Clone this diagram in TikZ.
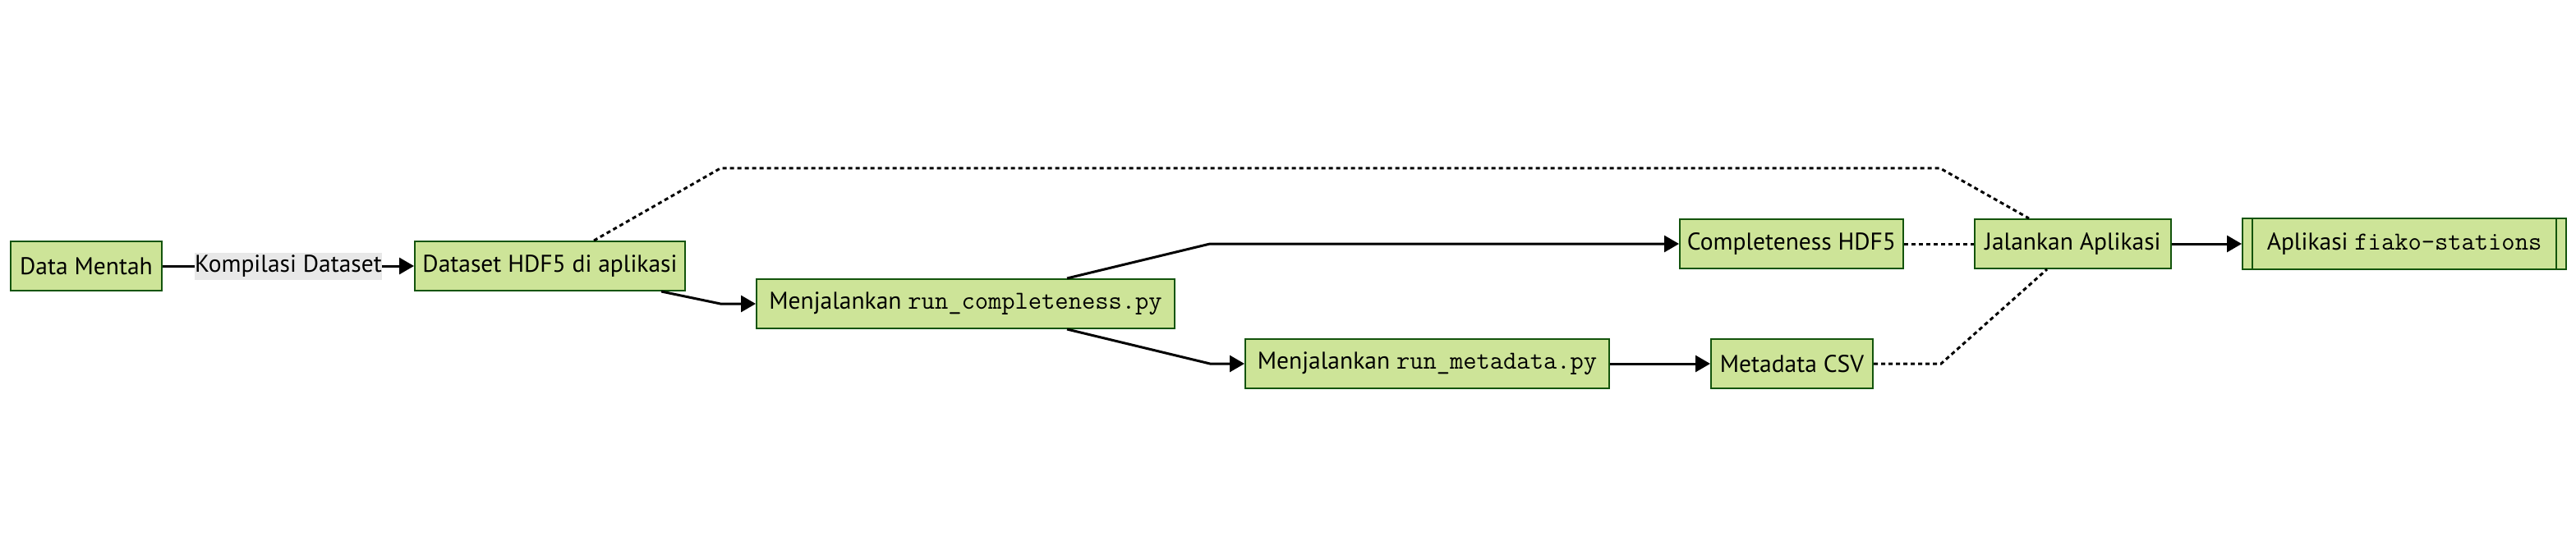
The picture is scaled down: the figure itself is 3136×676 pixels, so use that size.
\documentclass[tikz,border=0pt]{standalone}
\usepackage{fontspec}
\setmainfont{PT Sans}
\usetikzlibrary{arrows.meta}
\definecolor{boxfill}{HTML}{CDE498}
\definecolor{boxline}{HTML}{13540C}
\definecolor{labelbg}{HTML}{E8E8E8}
\newcommand{\code}[1]{{\fontsize{31.6}{36}\selectfont\ttfamily #1}}

\begin{document}
\begin{tikzpicture}[x=1pt, y=-1pt,
		box/.style={draw=boxline, fill=boxfill, line width=2pt, minimum height=60pt, inner sep=0pt, font=\fontsize{29.5}{35}\selectfont},
		link/.style={line width=3pt, -{Triangle[length=18pt, width=20pt]}},
		dotlink/.style={line width=3pt, dash pattern=on 5pt off 4pt},
		edgelabel/.style={fill=labelbg, inner sep=0pt, minimum width=223pt, minimum height=33pt, font=\fontsize{29.5}{35}\selectfont}]
		\useasboundingbox (0,0) rectangle (3136,676);
		% nodes
		\node[box, minimum width=184pt] (mentah) at (105,324) {Data Mentah};
		\node[box, minimum width=329pt] (dataset) at (669.5,324) {Dataset HDF5 di aplikasi};
		\node[box, minimum width=509pt] (runcomp) at (1175.5,370) {Menjalankan \code{run\_completeness.py}};
		\node[box, minimum width=443pt] (runmeta) at (1737.5,443) {Menjalankan \code{run\_metadata.py}};
		\node[box, minimum width=272pt] (comphdf) at (2181,297) {Completeness HDF5};
		\node[box, minimum width=197pt] (metacsv) at (2181.5,443) {Metadata CSV};
		\node[box, minimum width=239pt] (jalankan) at (2523.5,297) {Jalankan Aplikasi};
		\node[box, minimum width=394pt, minimum height=62pt] (aplikasi) at (2927,297) {Aplikasi \code{fiako-stations}};
		\draw[draw=boxline, line width=2pt] ([xshift=13pt]aplikasi.north west) -- ([xshift=13pt]aplikasi.south west)
			([xshift=-13pt]aplikasi.north east) -- ([xshift=-13pt]aplikasi.south east);
		% bend points
		\coordinate (b1) at (877,370);
		\coordinate (b2) at (1473,297);
		\coordinate (b3) at (1473,443);
		\coordinate (b4) at (2363,443);
		\coordinate (b5) at (877,205);
		\coordinate (b6) at (2362,205);
		% solid links
		\draw[link] (mentah) -- node[edgelabel] {Kompilasi Dataset} (dataset);
		\draw[link] ([xshift=135.5pt]dataset.south) -- (b1) -- (runcomp.west);
		\draw[link] ([xshift=123.5pt]runcomp.north) -- (b2) -- (comphdf.west);
		\draw[link] ([xshift=123.5pt]runcomp.south) -- (b3) -- (runmeta.west);
		\draw[link] (runmeta) -- (metacsv);
		\draw[link] (jalankan) -- (aplikasi);
		% dotted links
		\draw[dotlink] (comphdf) -- (jalankan);
		\draw[dotlink] (metacsv.east) -- (b4) -- ([xshift=-31.5pt]jalankan.south);
		\draw[dotlink] ([xshift=53.5pt]dataset.north) -- (b5) -- (b6) -- ([xshift=-53.5pt]jalankan.north);
	\end{tikzpicture}
\end{document}
